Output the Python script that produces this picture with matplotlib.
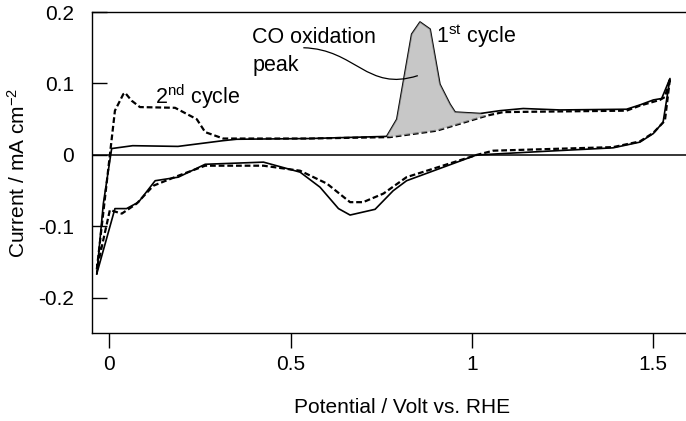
import numpy as np
import matplotlib

matplotlib.use("Agg")
import matplotlib.pyplot as plt
from matplotlib.path import Path
from matplotlib.patches import PathPatch

# 1st cycle (solid), forward then reverse sweep
c1_fwd_x = [-0.035, -0.017, 0.006, 0.064, 0.189, 0.313, 0.351, 0.55, 0.765, 0.793,
            0.834, 0.857, 0.885, 0.912, 0.940, 0.954, 1.023, 1.078, 1.142, 1.243,
            1.427, 1.464, 1.501, 1.524, 1.547]
c1_fwd_y = [-0.166, -0.068, 0.009, 0.013, 0.012, 0.020, 0.022, 0.023, 0.026, 0.050,
            0.169, 0.186, 0.176, 0.099, 0.071, 0.060, 0.058, 0.062, 0.065, 0.063,
            0.064, 0.070, 0.077, 0.079, 0.107]
c1_rev_x = [1.528, 1.501, 1.464, 1.39, 1.197, 1.013, 0.820, 0.783, 0.733, 0.664,
            0.632, 0.581, 0.526, 0.425, 0.264, 0.190, 0.126, 0.080, 0.047, 0.015, -0.035]
c1_rev_y = [0.046, 0.030, 0.018, 0.010, 0.005, 0.0, -0.036, -0.050, -0.076, -0.084,
            -0.075, -0.045, -0.024, -0.010, -0.013, -0.031, -0.036, -0.066, -0.075, -0.075, -0.166]

# 2nd cycle (dashed)
c2_fwd_x = [-0.035, 0.001, 0.015, 0.038, 0.043, 0.061, 0.084, 0.181, 0.241, 0.264,
            0.314, 0.55, 0.774, 0.903, 1.041, 1.087, 1.427, 1.464, 1.519, 1.533, 1.547]
c2_fwd_y = [-0.160, 0.0, 0.062, 0.085, 0.087, 0.076, 0.067, 0.066, 0.050, 0.032,
            0.023, 0.023, 0.025, 0.034, 0.055, 0.060, 0.062, 0.069, 0.077, 0.081, 0.107]
c2_rev_x = [1.533, 1.501, 1.464, 1.39, 1.059, 1.013, 0.820, 0.756, 0.700, 0.664,
            0.600, 0.526, 0.425, 0.264, 0.190, 0.121, 0.075, 0.034, 0.001, -0.035]
c2_rev_y = [0.048, 0.031, 0.019, 0.011, 0.006, 0.0, -0.031, -0.054, -0.066, -0.066,
            -0.040, -0.022, -0.015, -0.015, -0.029, -0.043, -0.068, -0.082, -0.077, -0.160]

x_ticks = [0, 0.5, 1, 1.5]
x_tick_labels = ["0", "0.5", "1", "1.5"]
y_ticks = [-0.2, -0.1, 0, 0.1, 0.2]
y_tick_labels = ["-0.2", "-0.1", "0", "0.1", "0.2"]

plt.rcParams["font.family"] = ["Liberation Sans", "DejaVu Sans"]
plt.rcParams["mathtext.fontset"] = "custom"
plt.rcParams["mathtext.rm"] = "Liberation Sans"
plt.rcParams["mathtext.it"] = "Liberation Sans:italic"
plt.rcParams["axes.unicode_minus"] = False

fig = plt.figure(figsize=(6.86, 4.21), dpi=100)
ax = fig.add_axes([92 / 686, 1 - 333 / 421, 594 / 686, 321 / 421])

ax.axhline(0, color="black", lw=1.1, zorder=1)

ax.plot(c1_fwd_x + c1_rev_x, c1_fwd_y + c1_rev_y, color="black", lw=1.2, zorder=2)
ax.plot(c2_fwd_x + c2_rev_x, c2_fwd_y + c2_rev_y, color="black", lw=1.6,
        linestyle=(0, (2.6, 1.3)), zorder=2)

# shaded CO oxidation charge between the two forward sweeps
fx1 = np.array(c1_fwd_x)
fy1 = np.array(c1_fwd_y)
fx2 = np.array(c2_fwd_x)
fy2 = np.array(c2_fwd_y)
m1 = (fx1 >= 0.76) & (fx1 <= 1.03)
m2 = (fx2 >= 0.76) & (fx2 <= 1.05)
poly_x = np.concatenate([fx1[m1], fx2[m2][::-1]])
poly_y = np.concatenate([fy1[m1], fy2[m2][::-1]])
ax.fill(poly_x, poly_y, facecolor="#b0b0b0", edgecolor="none", alpha=0.7, zorder=3)

# leader from label to peak
verts = [(0.535, 0.150), (0.68, 0.148), (0.71, 0.088), (0.851, 0.111)]
codes = [Path.MOVETO, Path.CURVE4, Path.CURVE4, Path.CURVE4]
ax.add_patch(PathPatch(Path(verts, codes), facecolor="none", edgecolor="black",
                       lw=0.9, zorder=4))

ax.text(0.394, 0.1565, "CO oxidation", fontsize=15.5, ha="left", va="baseline")
ax.text(0.394, 0.118, "peak", fontsize=15.5, ha="left", va="baseline")
ax.text(0.900, 0.1565, "1$^{\\mathrm{st}}$ cycle", fontsize=15.5, ha="left", va="baseline")
ax.text(0.125, 0.0714, "2$^{\\mathrm{nd}}$ cycle", fontsize=15.5, ha="left", va="baseline")

ax.set_xlim(-0.0483, 1.5912)
ax.set_ylim(-0.249, 0.2)
ax.set_xticks(x_ticks, x_tick_labels)
ax.set_yticks(y_ticks, y_tick_labels)
ax.tick_params(axis="y", direction="in", length=10.8, width=1.0, pad=13, labelsize=15)
ax.tick_params(axis="x", direction="out", length=10.8, width=1.0, pad=5, labelsize=15)
ax.spines["right"].set_visible(False)
for side in ("left", "top", "bottom"):
    ax.spines[side].set_linewidth(1.0)

ax.set_xlabel("Potential / Volt vs. RHE", fontsize=15)
ax.xaxis.label.set_va("baseline")
ax.xaxis.set_label_coords(0.522, (333 - 413) / 321)
ax.set_ylabel("Current / mA cm$^{-2}$", fontsize=15)
ax.yaxis.label.set_va("baseline")
ax.yaxis.set_label_coords((25 - 92) / 594, 0.5)

fig.savefig("out.png", dpi=100)
